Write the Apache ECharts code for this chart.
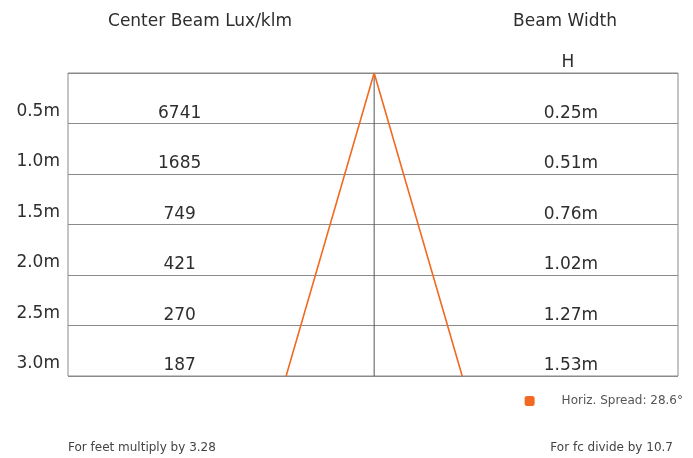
<!DOCTYPE html>
<html><head><meta charset="utf-8">
<script src="https://cdn.jsdelivr.net/npm/echarts@6/dist/echarts.min.js"></script>
<style>html,body{margin:0;padding:0;background:#fff}#c{width:693px;height:458px}</style>
</head><body><div id="c"></div>
<script>
const distances = [0.5, 1.0, 1.5, 2.0, 2.5, 3.0];
const luxValues = [6741, 1685, 749, 421, 270, 187];
const beamWidths = [0.25, 0.51, 0.76, 1.02, 1.27, 1.53];
const spreadLabel = 'Horiz. Spread: 28.6°';
const footLeft = 'For feet multiply by 3.28';
const footRight = 'For fc divide by 10.7';

const FONT = '"DejaVu Sans", sans-serif';
const TXT = '#2e2e2e';
const ORANGE = '#f26a21';
const GRID = '#8a8a8a';
const LUX_X = -1.69, BW_X = 1.71;
const maxD = distances[distances.length - 1];
const half = beamWidths[beamWidths.length - 1] / 2;

const chart = echarts.init(document.getElementById('c'));
chart.setOption({
  animation: false,
  title: [
    {text: 'Center Beam Lux/klm', left: 195, top: 8, textAlign: 'center', textStyle: {fontFamily: FONT, fontWeight: 'normal', fontSize: 17, color: TXT}},
    {text: 'Beam Width', left: 560, top: 8, textAlign: 'center', textStyle: {fontFamily: FONT, fontWeight: 'normal', fontSize: 17, color: TXT}},
    {text: 'H', left: 563, top: 49, textAlign: 'center', textStyle: {fontFamily: FONT, fontWeight: 'normal', fontSize: 17, color: TXT}},
    {text: footLeft, left: 63, top: 437, textStyle: {fontFamily: FONT, fontWeight: 'normal', fontSize: 12, color: '#444'}},
    {text: footRight, right: 15, top: 437, textStyle: {fontFamily: FONT, fontWeight: 'normal', fontSize: 12, color: '#444'}}
  ],
  legend: {
    right: 5, top: 390, icon: 'roundRect', itemWidth: 10, itemHeight: 10,
    data: [{name: spreadLabel, itemStyle: {color: ORANGE}}],
    textStyle: {fontFamily: FONT, fontSize: 12, color: '#555', padding: [0, 0, 0, 22]}
  },
  grid: {left: 68, right: 15, top: 73, bottom: 82, show: true, borderColor: GRID, borderWidth: 1},
  xAxis: {type: 'value', min: -2.66, max: 2.64, show: false},
  yAxis: {
    type: 'value', inverse: true, min: 0, max: maxD, interval: 0.5,
    axisLine: {show: false}, axisTick: {show: false},
    splitLine: {show: true, lineStyle: {color: GRID, width: 1}},
    axisLabel: {
      margin: 8, fontFamily: FONT, fontSize: 17, color: TXT, verticalAlign: 'bottom', lineHeight: 24,
      formatter: v => v === 0 ? '' : v.toFixed(1) + 'm'
    }
  },
  series: [
    {type: 'line', silent: true, symbol: 'none', lineStyle: {color: '#555', width: 1},
     data: [[0, 0], [0, maxD]]},
    {name: spreadLabel, type: 'line', symbol: 'none', itemStyle: {color: ORANGE}, lineStyle: {color: ORANGE, width: 1.6},
     data: [[-half, maxD], [0, 0], [half, maxD]]},
    {type: 'scatter', symbolSize: 0, silent: true, itemStyle: {opacity: 1},
     data: distances.map((d, i) => [LUX_X, d, luxValues[i]]),
     label: {show: true, position: 'inside', offset: [0, -10], fontFamily: FONT, fontSize: 17, color: TXT, formatter: p => String(p.value[2])}},
    {type: 'scatter', symbolSize: 0, silent: true, itemStyle: {opacity: 1},
     data: distances.map((d, i) => [BW_X, d, beamWidths[i]]),
     label: {show: true, position: 'inside', offset: [0, -10], fontFamily: FONT, fontSize: 17, color: TXT, formatter: p => p.value[2].toFixed(2) + 'm'}}
  ]
});
</script></body></html>
